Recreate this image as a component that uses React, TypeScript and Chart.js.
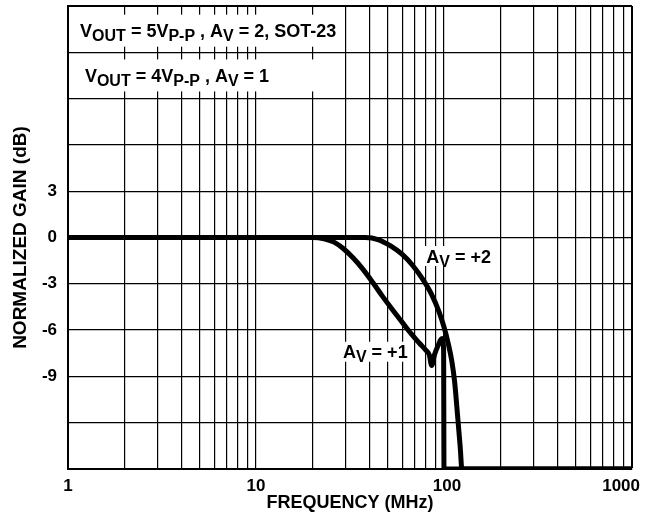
import { useEffect, useRef } from 'react';
import { Chart, registerables } from 'chart.js';
Chart.register(...registerables);

// A_V = +2 curve (frequency MHz, normalized gain dB)
const av2Freq = [1, 10, 30, 38, 45, 52, 60, 68, 77, 86, 94, 100, 105, 110, 114, 118, 122, 124.5, 1000];
const av2Gain = [0, 0, 0, 0, -0.15, -0.55, -1.1, -1.8, -2.7, -3.7, -4.8, -5.8, -6.8, -8.0, -9.4, -11.5, -13.6, -15, -15];
// A_V = +1 curve
const av1Freq = [1, 10, 20, 23, 26, 29, 33, 37, 42, 47, 53, 60, 67, 74, 80, 83.5, 86, 89, 93, 97.5, 99.5, 100, 1000];
const av1Gain = [0, 0, 0, -0.08, -0.3, -0.7, -1.35, -2.05, -2.95, -3.8, -4.65, -5.5, -6.25, -6.85, -7.3, -7.6, -8.3, -7.6, -7.0, -6.55, -7.2, -15, -15];

const xGridValues = [1, 2, 3, 4, 5, 6, 7, 8, 9, 10, 20, 30, 40, 50, 60, 70, 80, 90, 100, 200, 300, 400, 500, 600, 700, 800, 900, 1000];
const xTickLabels = [1, 10, 100, 1000];
const yTickLabels = [3, 0, -3, -6, -9];

const FONT = '"Liberation Sans", Arial, Helvetica, sans-serif';

type Seg = [string, boolean];
const legend1: Seg[] = [['V', false], ['OUT', true], [' = 5V', false], ['P-P', true], [' , A', false], ['V', true], [' = 2, SOT-23', false]];
const legend2: Seg[] = [['V', false], ['OUT', true], [' = 4V', false], ['P-P', true], [' , A', false], ['V', true], [' = 1', false]];
const label2: Seg[] = [['A', false], ['V', true], [' = +2', false]];
const label1: Seg[] = [['A', false], ['V', true], [' = +1', false]];

const MAIN = 18;
const SUB = 16;

function richWidth(ctx: CanvasRenderingContext2D, segs: Seg[]) {
  let w = 0;
  for (const [t, sub] of segs) {
    ctx.font = `bold ${sub ? SUB : MAIN}px ${FONT}`;
    w += ctx.measureText(t).width;
  }
  return w;
}

function drawRich(ctx: CanvasRenderingContext2D, segs: Seg[], x: number, yMid: number) {
  let cx = x;
  const base = yMid + MAIN * 0.36;
  ctx.fillStyle = '#000';
  ctx.textBaseline = 'alphabetic';
  ctx.textAlign = 'left';
  for (const [t, sub] of segs) {
    ctx.font = `bold ${sub ? SUB : MAIN}px ${FONT}`;
    ctx.fillText(t, cx, sub ? base + 4 : base);
    cx += ctx.measureText(t).width;
  }
}

// text items: segments, anchor (freq, dB) of left / vertical middle, box padding
const textItems: { segs: Seg[]; f: number; db: number; padL: number; padR: number; padV: number; boxLeftEdge?: boolean }[] = [
  { segs: legend1, f: 1.16, db: 13.4, padL: 10, padR: 2, padV: 16, boxLeftEdge: true },
  { segs: legend2, f: 1.23, db: 10.5, padL: 14, padR: 58, padV: 16, boxLeftEdge: true },
  { segs: label2, f: 80.5, db: -1.2, padL: 3, padR: 3, padV: 10 },
  { segs: label1, f: 29, db: -7.4, padL: 3, padR: 3, padV: 10 },
];

const annotPlugin = {
  id: 'annot',
  beforeDatasetsDraw(chart: any) {
    const ctx = chart.ctx as CanvasRenderingContext2D;
    const xs = chart.scales.x, ys = chart.scales.y;
    ctx.save();
    ctx.fillStyle = '#fff';
    for (const it of textItems) {
      const x = xs.getPixelForValue(it.f);
      const y = ys.getPixelForValue(it.db);
      const w = richWidth(ctx, it.segs);
      const left = it.boxLeftEdge ? chart.chartArea.left + 2 : x - it.padL;
      ctx.fillRect(left, y - it.padV, x + w + it.padR - left, it.padV * 2);
    }
    ctx.restore();
  },
  afterDraw(chart: any) {
    const ctx = chart.ctx as CanvasRenderingContext2D;
    const xs = chart.scales.x, ys = chart.scales.y;
    ctx.save();
    for (const it of textItems) {
      drawRich(ctx, it.segs, xs.getPixelForValue(it.f), ys.getPixelForValue(it.db));
    }
    // x tick labels
    ctx.font = `bold 17px ${FONT}`;
    ctx.fillStyle = '#000';
    ctx.textBaseline = 'middle';
    for (const v of xTickLabels) {
      const px = xs.getPixelForValue(v);
      const s = String(v);
      const w = ctx.measureText(s).width;
      const isLast = v === xTickLabels[xTickLabels.length - 1];
      ctx.textAlign = 'left';
      ctx.fillText(s, isLast ? px + 8 - w : px - w / 2 + (v === 100 ? 3 : 0), chart.chartArea.bottom + 17);
    }
    ctx.restore();
  },
};

export default function App() {
  const ref = useRef<HTMLCanvasElement | null>(null);
  useEffect(() => {
    if (!ref.current) return;
    const chart = new Chart(ref.current, {
      type: 'line',
      data: {
        datasets: [
          { label: 'AV=+2', data: av2Freq.map((f, i) => ({ x: f, y: av2Gain[i] })), borderColor: '#000', borderWidth: 5, cubicInterpolationMode: 'monotone', pointRadius: 0 },
          { label: 'AV=+1', data: av1Freq.map((f, i) => ({ x: f, y: av1Gain[i] })), borderColor: '#000', borderWidth: 5, cubicInterpolationMode: 'monotone', pointRadius: 0 },
        ],
      },
      options: {
        animation: false,
        responsive: false,
        maintainAspectRatio: false,
        layout: { padding: { top: 6, right: 23, left: 0, bottom: 0 } },
        elements: { line: { borderJoinStyle: 'round', borderCapStyle: 'round' } },
        plugins: { legend: { display: false }, tooltip: { enabled: false } },
        scales: {
          x: {
            type: 'logarithmic',
            min: 1,
            max: 1000,
            afterBuildTicks: (s: any) => { s.ticks = xGridValues.map((v) => ({ value: v })); },
            afterFit: (s: any) => { s.height = 49; s.paddingLeft = 0; s.paddingRight = 0; },
            ticks: { display: false, autoSkip: false },
            grid: { color: '#000', lineWidth: (c: any) => (c.tick && c.tick.value === 1000 ? 2 : 1.2), drawTicks: false },
            border: { color: '#000', width: 2 },
            title: { display: true, text: 'FREQUENCY (MHz)', color: '#000', font: { family: FONT, size: 18, weight: 'bold', lineHeight: 1 }, padding: { top: 0, bottom: 6 } },
          },
          y: {
            min: -15,
            max: 15,
            afterFit: (s: any) => { s.width = 68; s.paddingTop = 0; s.paddingBottom = 0; },
            ticks: { stepSize: 3, autoSkip: false, padding: 11, color: '#000', font: { family: FONT, size: 17, weight: 'bold' }, callback: (v: any) => (yTickLabels.includes(Number(v)) ? String(v) : '') },
            grid: { color: '#000', lineWidth: (c: any) => (c.tick && c.tick.value === 15 ? 2 : 1.2), drawTicks: false },
            border: { color: '#000', width: 2 },
            title: { display: true, text: 'NORMALIZED GAIN (dB)', color: '#000', font: { family: FONT, size: 19, weight: 'bold', lineHeight: 1 }, padding: { top: 11, bottom: 0 } },
          },
        },
      },
      plugins: [annotPlugin],
    } as any);
    return () => chart.destroy();
  }, []);
  return (
    <div style={{ position: 'fixed', left: 0, top: 0, width: 655, height: 518, background: '#fff' }}>
      <canvas ref={ref} width={655} height={518} style={{ width: 655, height: 518, display: 'block' }} />
    </div>
  );
}
